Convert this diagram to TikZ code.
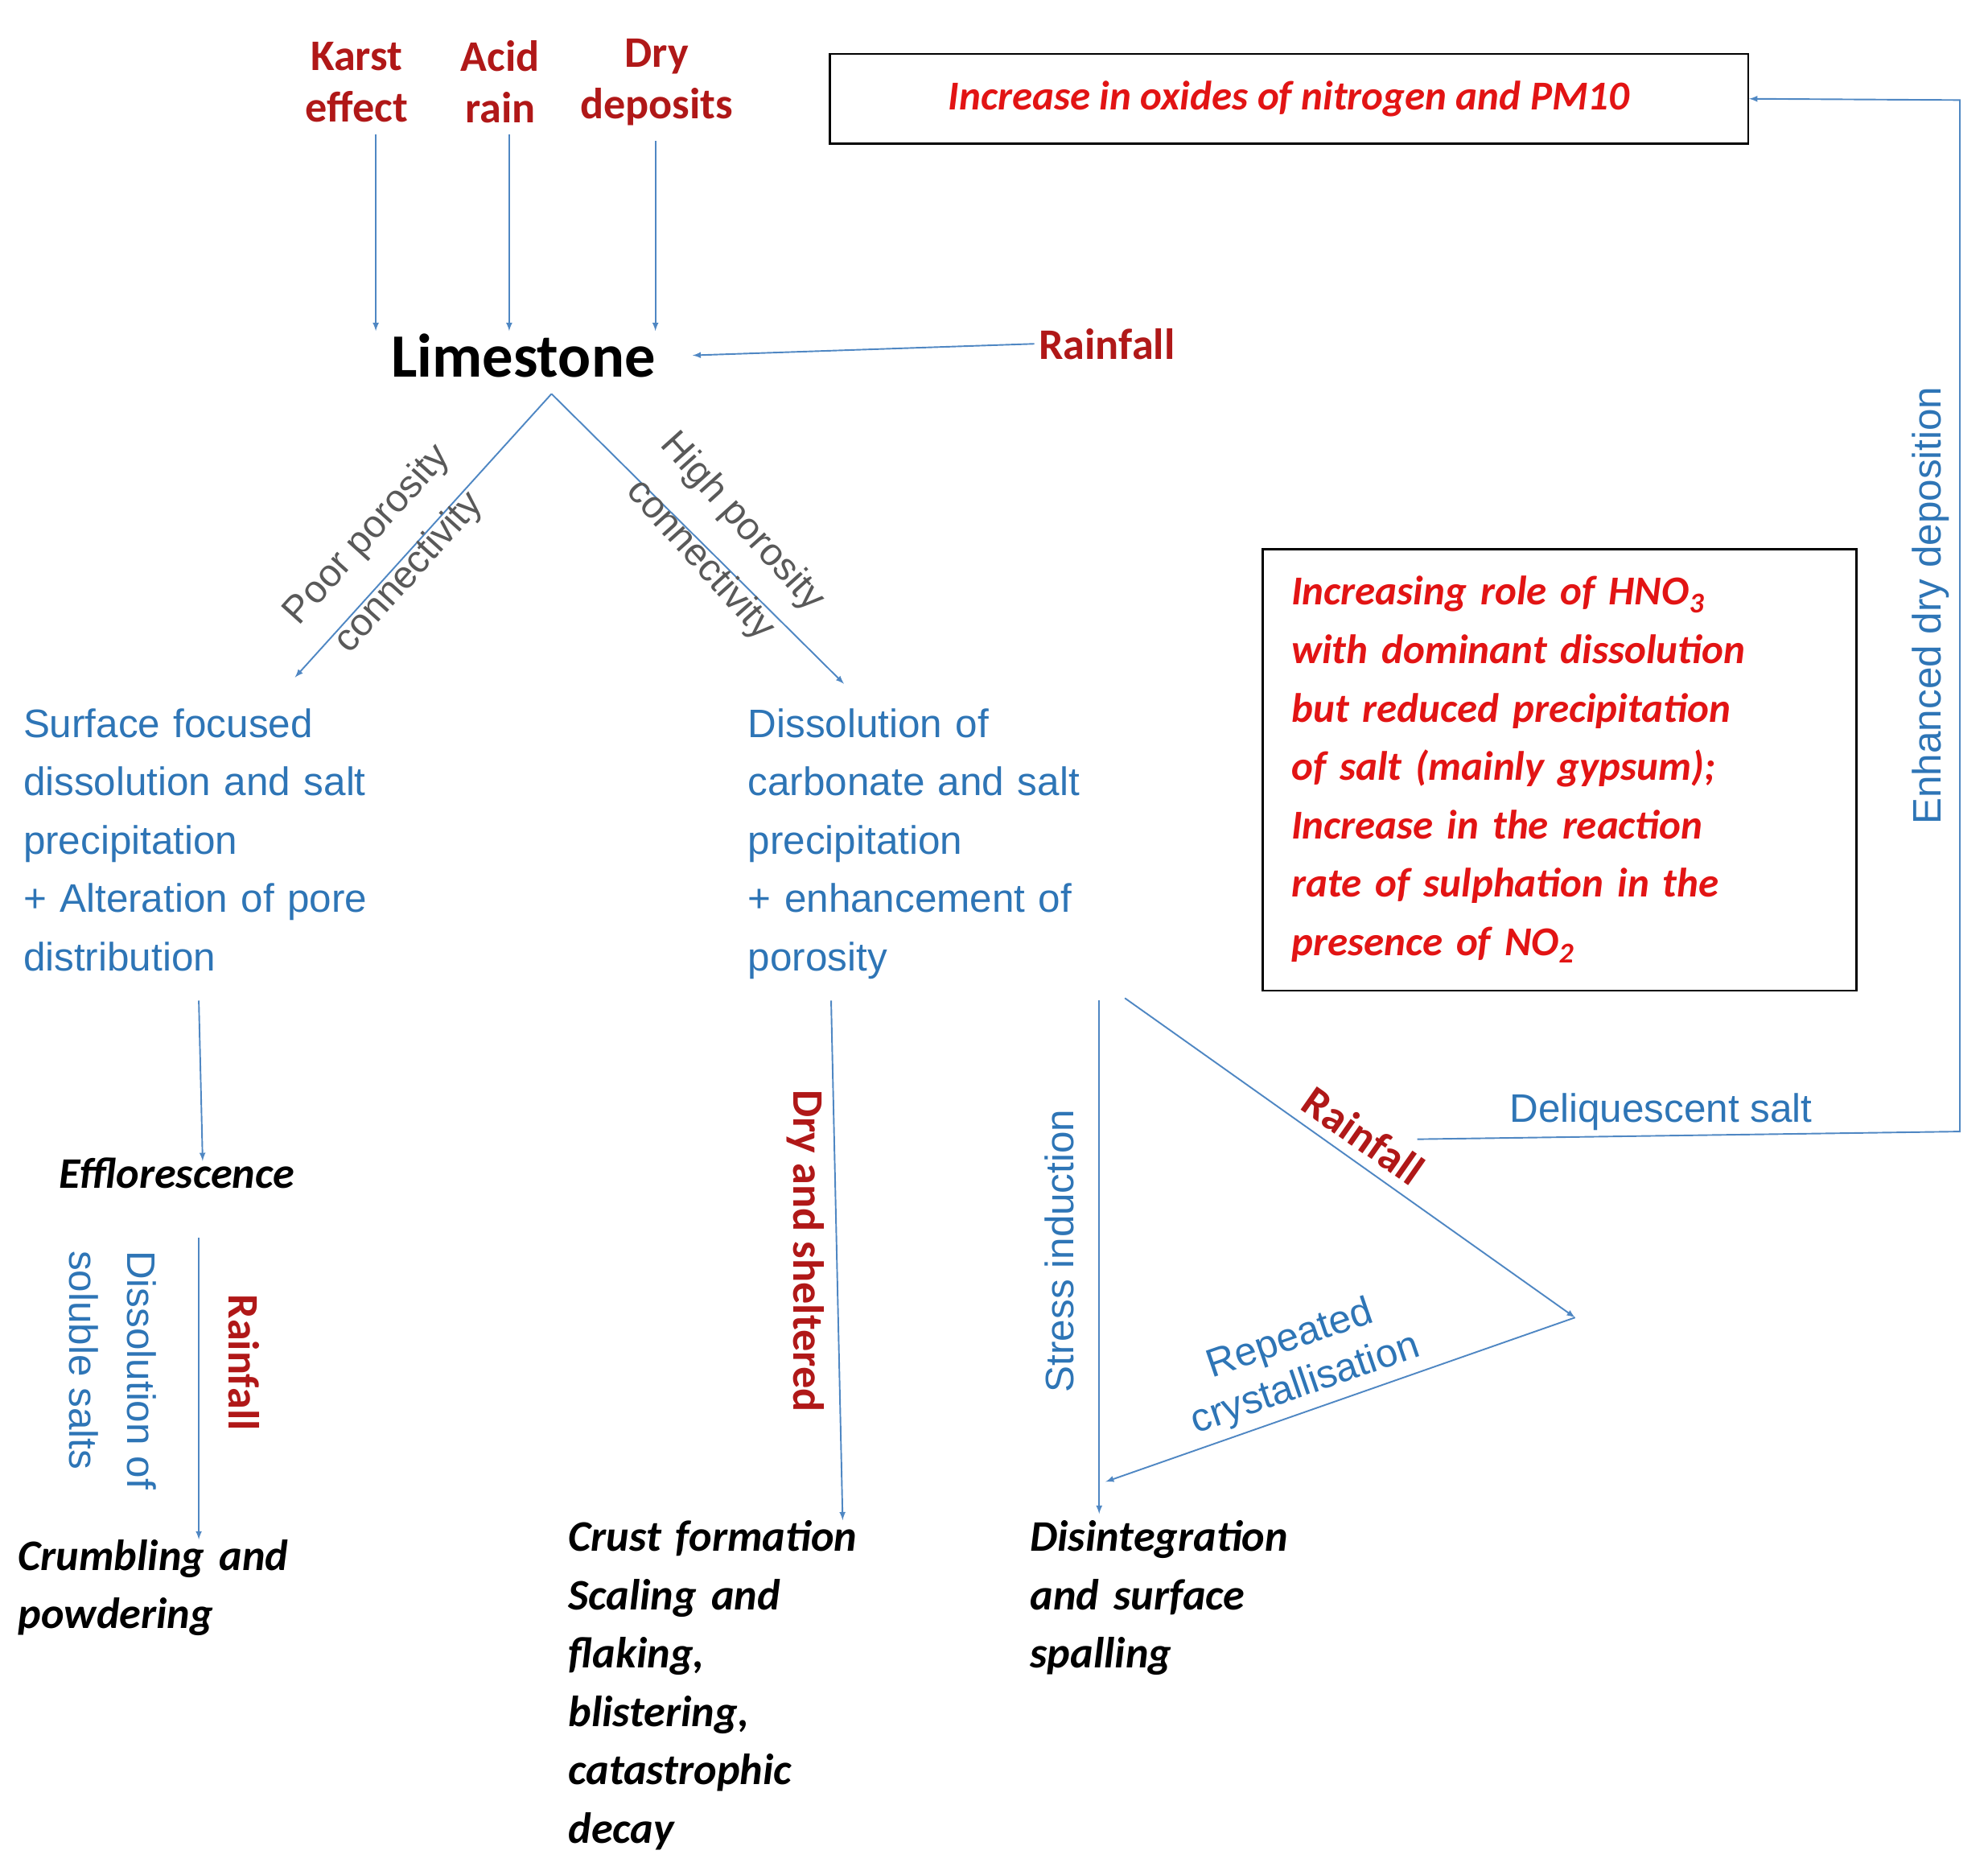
\documentclass[tikz,border=0pt]{standalone}
\usepackage{fontspec}
\setmainfont{Liberation Sans}
\newfontfamily\carl{Carlito}
\usetikzlibrary{positioning}
\definecolor{lblue}{RGB}{79,135,195}
\definecolor{tblue}{RGB}{46,117,182}
\definecolor{dred}{RGB}{176,24,24}
\definecolor{bred}{RGB}{226,20,20}
\newcommand{\jline}[1]{\makebox[\linewidth][s]{#1}}
\begin{document}
\begin{tikzpicture}[%
x=1pt, y=-1pt,
>={latex[scale=1.6]},
flow/.style={->, draw=lblue, line width=1.2pt},
cause/.style={text=dred, font=\carl\bfseries\fontsize{34}{40}\selectfont, align=center},
blue/.style={text=tblue, font=\fontsize{31}{45.5}\selectfont, align=left, inner sep=0pt, anchor=north west},
effect/.style={text=black, font=\carl\bfseries\itshape\fontsize{34}{45.5}\selectfont, align=left, inner sep=0pt, anchor=north west},
grey/.style={text=black!65, font=\fontsize{30}{44}\selectfont, align=center},
note/.style={text=bred, font=\carl\bfseries\itshape\fontsize{32}{45.5}\selectfont}
]
\useasboundingbox (0,0) rectangle (1550,1458);

\node[cause] (karst) at (278,64) {Karst\\effect};
\node[cause] (acid) at (390,64) {Acid\\rain};
\node[cause] (dry) at (512,64) {Dry\\deposits};
\node[font=\carl\bfseries\fontsize{48}{50}\selectfont] (lime) at (408,277) {Limestone};
\node[cause] (rain1) at (863,268) {Rainfall};
\node[draw, line width=1.5pt, minimum width=716pt, minimum height=70pt, note] (nox) at (1005,77) {Increase in oxides of nitrogen and PM10};

\draw[flow] (293,105) -- (293,258);
\draw[flow] (397,105) -- (397,258);
\draw[flow] (511,110) -- (511,258);
\draw[flow] (rain1.west) -- (540,277);

\coordinate (apex) at (430,307);
\draw[flow] (apex) -- (230,528);
\draw[flow] (apex) -- (658,533);
\node[grey, rotate=48] at (303,432) {Poor porosity\\connectivity};
\node[grey, rotate=-48] at (562,422) {High porosity\\connectivity};

\node[blue, text width=390pt] (surf) at (18,552) {\jline{Surface focused}\\\jline{dissolution and salt}\\precipitation\\\jline{+ Alteration of pore}\\distribution};
\node[blue, text width=390pt] (diss) at (583,552) {\jline{Dissolution of}\\\jline{carbonate and salt}\\precipitation\\\jline{+ enhancement of}\\porosity};

\node[draw, line width=1.5pt, minimum width=463pt, minimum height=344pt] (hno) at (1216,600) {};
\node[note, text width=418pt, align=left] at (hno) {\jline{Increasing role of HNO\textsubscript{3}}\\\jline{with dominant dissolution}\\\jline{but reduced precipitation}\\\jline{of salt (mainly gypsum);}\\\jline{Increase in the reaction}\\\jline{rate of sulphation in the}\\presence of NO\textsubscript{2}};

\node[effect] (efflo) at (46,902) {Efflorescence};
\node[effect, text width=272pt] (crumb) at (14,1200) {\jline{Crumbling and}\\powdering};
\node[effect, text width=302pt] (crust) at (443,1185) {Crust formation\\\jline{Scaling and}\\flaking,\\blistering,\\catastrophic\\decay};
\node[effect, text width=283pt] (disin) at (803,1185) {Disintegration\\\jline{and surface}\\spalling};

\draw[flow] (155,780) -- (158,905);
\draw[flow] (155,965) -- (155,1200);
\node[cause, rotate=-90] at (190,1062) {Rainfall};
\node[text=tblue, font=\fontsize{31}{45}\selectfont, rotate=-90, align=left] at (88,1068) {Dissolution of\\soluble salts};

\draw[flow] (648,780) -- (657,1185);
\node[cause, rotate=-90] at (628,975) {Dry and sheltered};

\draw[flow] (857,780) -- (857,1180);
\node[text=tblue, font=\fontsize{31}{37}\selectfont, rotate=90] at (826,975) {Stress induction};

\coordinate (tri) at (1228,1027);
\draw[flow] (877,778) -- (tri);
\draw[flow] (tri) -- (862,1155);
\node[cause, rotate=-35] at (1063,885) {Rainfall};
\node[text=tblue, font=\fontsize{31}{37}\selectfont, rotate=19, align=center] at (1012,1062) {Repeated\\crystallisation};

\coordinate (deli) at (1105,888);
\coordinate (up) at (1528,882);
\draw[flow] (deli) -- (up) -- (1528,78) -- (nox.east);
\node[text=tblue, font=\fontsize{31}{37}\selectfont] at (1295,867) {Deliquescent salt};
\node[text=tblue, font=\fontsize{31}{37}\selectfont, rotate=90] at (1505,472) {Enhanced dry deposition};
\end{tikzpicture}
\end{document}
